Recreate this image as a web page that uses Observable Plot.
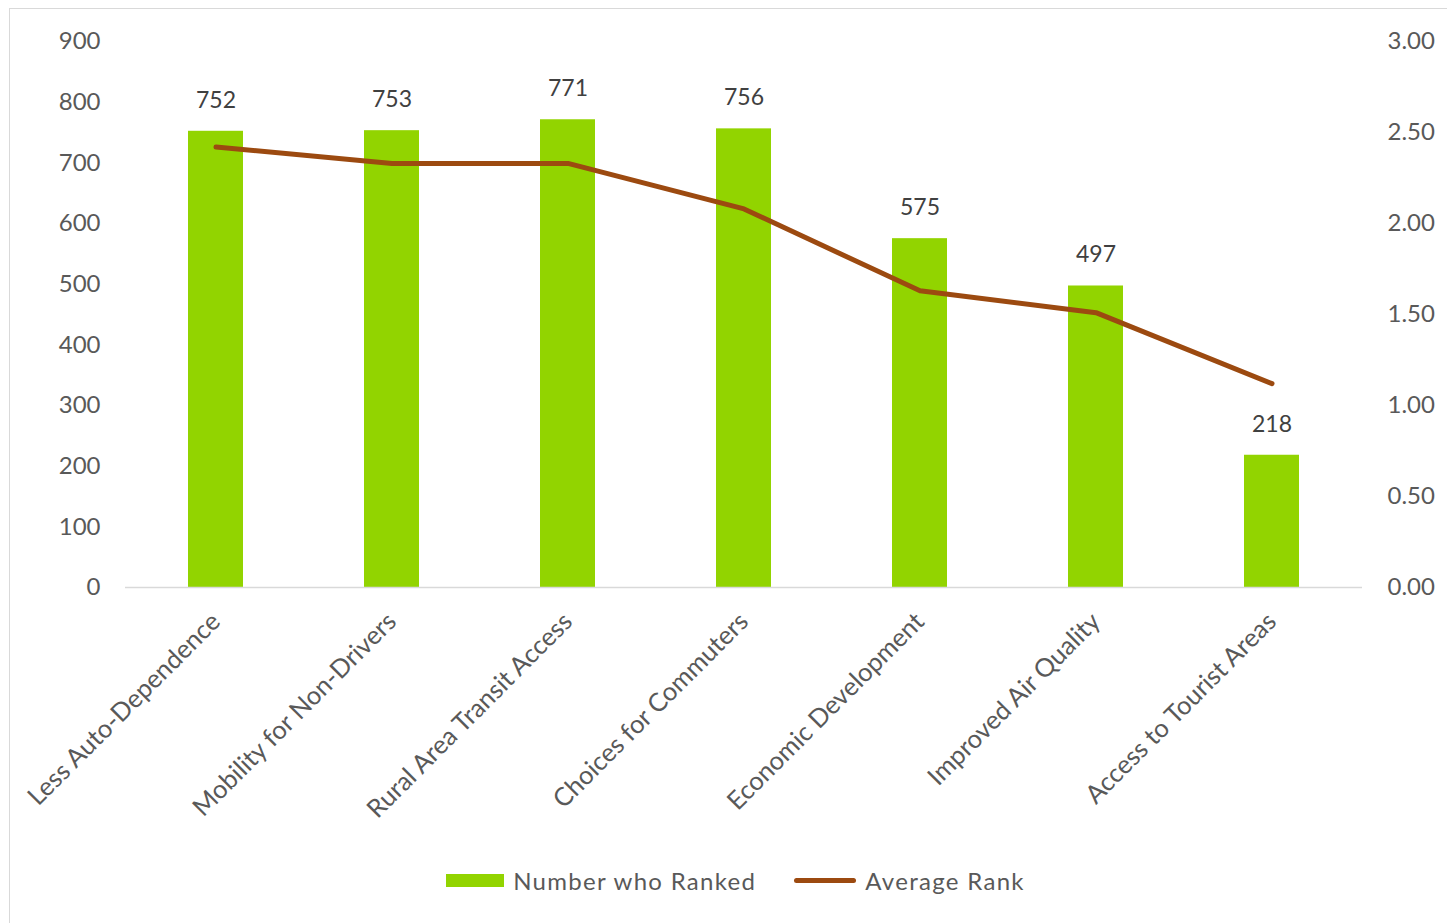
<!DOCTYPE html>
<html>
<head>
<meta charset="utf-8">
<script src="https://cdn.jsdelivr.net/npm/d3@7"></script>
<script src="https://cdn.jsdelivr.net/npm/@observablehq/plot@0.6"></script>
<style>
  html, body { margin: 0; padding: 0; background: #fff; }
  #frame { position: absolute; left: 9px; top: 8px; width: 1460px; height: 920px; border: 1px solid #d9d9d9; box-sizing: border-box; }
  #chart { position: absolute; left: 0; top: 0; }
  #legend { position: absolute; left: 12px; top: 866px; width: 1447px; display: flex; justify-content: center; align-items: center; font-family: Lato, "Open Sans", sans-serif; font-size: 24px; letter-spacing: 1.3px; color: #595959; }
  .sw { display: inline-block; margin-right: 9px; }
  .item { display: flex; align-items: center; margin: 0 19px; }
</style>
</head>
<body>
<div id="frame"></div>
<div id="chart"></div>
<div id="legend">
  <div class="item"><span class="sw" style="width:58px;height:13px;background:#92d400"></span>Number who Ranked</div>
  <div class="item"><span class="sw" style="width:62px;height:5px;background:#9c4a10;border-radius:3px"></span>Average Rank</div>
</div>
<script>
const categories = ["Less Auto-Dependence", "Mobility for Non-Drivers", "Rural Area Transit Access", "Choices for Commuters", "Economic Development", "Improved Air Quality", "Access to Tourist Areas"];
const numberRanked = [752, 753, 771, 756, 575, 497, 218];
const averageRank = [2.42, 2.33, 2.33, 2.08, 1.63, 1.51, 1.12];
const leftTicks = [0, 100, 200, 300, 400, 500, 600, 700, 800, 900];
const rightTicks = [0, 0.5, 1, 1.5, 2, 2.5, 3];

const ratio = 900 / 3;
const data = categories.map((c, i) => ({cat: c, n: numberRanked[i], r: averageRank[i]}));

const chart = Plot.plot({
  width: 1447,
  height: 850,
  marginTop: 41,
  marginBottom: 263,
  marginLeft: 125,
  marginRight: 85,
  style: {fontFamily: "Lato, 'Open Sans', sans-serif", fontSize: "24px", color: "#595959", background: "transparent"},
  x: {domain: categories, paddingInner: 0.69, paddingOuter: 0.345, label: null},
  y: {domain: [0, 900], label: null},
  marks: [
    Plot.barY(data, {x: "cat", y: "n", fill: "#92d400"}),
    Plot.ruleY([0], {stroke: "#d9d9d9", strokeWidth: 1.5}),
    Plot.text(data, {x: "cat", y: "n", text: d => String(d.n), dy: -31, fill: "#404040", fontSize: 23}),
    Plot.line(data, {x: "cat", y: d => d.r * ratio, stroke: "#9c4a10", strokeWidth: 5, strokeLinecap: "round", strokeLinejoin: "round"}),
    Plot.axisY({ticks: leftTicks, tickSize: 0, tickPadding: 25, label: null, anchor: "left", fill: "#595959"}),
    Plot.axisY({ticks: rightTicks.map(v => v * ratio), tickFormat: d => (d / ratio).toFixed(2), tickSize: 0, tickPadding: 25, label: null, anchor: "right", fill: "#595959"}),
    Plot.axisX({tickSize: 0, tickPadding: 30, tickRotate: -45, label: null, fill: "#595959", fontSize: 25.5})
  ]
});
document.getElementById("chart").appendChild(chart);
</script>
</body>
</html>
